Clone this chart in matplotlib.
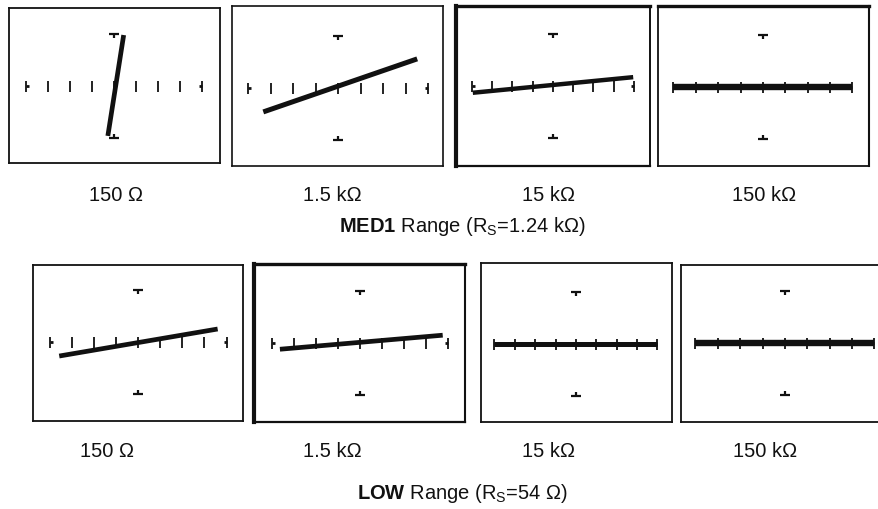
import numpy as np
import matplotlib
matplotlib.use("Agg")
import matplotlib.pyplot as plt

plt.rcParams['font.family'] = ['Liberation Sans', 'DejaVu Sans']
plt.rcParams['mathtext.fontset'] = 'custom'
plt.rcParams['mathtext.rm'] = 'Liberation Sans'
plt.rcParams['mathtext.bf'] = 'Liberation Sans:bold'

# test resistor labels and range titles
resistors = ["150 Ω", "1.5 kΩ", "15 kΩ", "150 kΩ"]
range_names = ["MED1", "LOW"]
range_rs = ["1.24 kΩ", "54 Ω"]

# trace end points (voltage, current), normalised to the reticle, one row per range
med1_v = [[-0.07, 0.11], [-0.83, 0.88], [-0.99, 0.99], [-1.0, 1.0]]
med1_i = [[-0.96, 0.98], [-0.46, 0.56], [-0.13, 0.17], [0.0, 0.0]]
low_v = [[-0.89, 0.90], [-0.91, 0.94], [-1.0, 1.0], [-1.0, 1.0]]
low_i = [[-0.27, 0.25], [-0.12, 0.15], [0.0, 0.0], [0.0, 0.0]]

W, H = 879, 510
fig = plt.figure(figsize=(W / 100, H / 100), dpi=100)

# layout in pixels: box (left, right, top, bottom), reticle centre and half width
boxes = [
    [(9, 220, 9, 164), (232, 443, 7, 167), (456, 650, 7, 167), (658, 869, 7, 167)],
    [(33, 243, 266, 422), (254, 465, 265, 423), (481, 672, 264, 423), (681, 892, 266, 423)],
]
centres = [
    [(114, 87), (338, 89), (553, 87), (763, 88)],
    [(138, 343), (360, 344), (576, 345), (785, 344)],
]
half_w = [[88, 90, 81, 89.5], [88.5, 88, 81.5, 89.5]]
half_h = 52
# spine widths (left, top, right, bottom) in points
spine_w = [
    [(1.3, 1.3, 1.3, 1.3), (1.2, 1.2, 1.2, 1.2), (3.0, 2.4, 1.4, 1.6), (1.3, 2.4, 1.5, 1.3)],
    [(1.3, 1.3, 1.3, 1.3), (3.0, 2.4, 1.5, 1.6), (1.3, 1.3, 1.3, 1.3), (1.3, 1.3, 1.3, 1.3)],
]
trace_lw = [[3.4, 3.6, 3.2, 4.6], [3.4, 3.4, 3.6, 4.6]]

label_x = [[116, 332, 548, 764], [107, 332, 548, 765]]
label_y = [196, 452]
title_y = [227, 494]

volts = [med1_v, low_v]
currs = [med1_i, low_i]

ink = "#111111"
for r in range(2):
    for c in range(4):
        l, rr, t, b = boxes[r][c]
        cx, cy = centres[r][c]
        hw = half_w[r][c]
        ax = fig.add_axes([l / W, 1 - b / H, (rr - l) / W, (b - t) / H])
        ax.set_xlim((l - cx) / hw, (rr - cx) / hw)
        ax.set_ylim((cy - b) / half_h, (cy - t) / half_h)
        ax.set_xticks([])
        ax.set_yticks([])
        for side, lw in zip(["left", "top", "right", "bottom"], spine_w[r][c]):
            ax.spines[side].set_linewidth(lw)
            ax.spines[side].set_color(ink)

        # reticle: nine ticks on the voltage axis, markers on the current axis
        th = 5.5 / half_h
        xs = np.linspace(-1, 1, 9)
        ax.vlines(xs, -th, th, color=ink, lw=1.3)
        ax.hlines(0, -1, -1 + 3 / hw, color=ink, lw=2.0)
        ax.hlines(0, 1 - 3 / hw, 1, color=ink, lw=2.0)
        ax.hlines([1, -1], -5 / hw, 5 / hw, color=ink, lw=1.6)
        ax.vlines(0, 1 - 4 / half_h, 1, color=ink, lw=1.6)
        ax.vlines(0, -1, -1 + 4 / half_h, color=ink, lw=1.6)

        ax.plot(volts[r][c], currs[r][c], color=ink, lw=trace_lw[r][c],
                solid_capstyle="butt")

        fig.text(label_x[r][c] / W, 1 - label_y[r] / H, resistors[c],
                 ha="center", va="center", fontsize=14.5, color=ink)

    fig.text(462 / W, 1 - title_y[r] / H,
             r"$\mathbf{" + range_names[r] + "}$ Range (R$_\\mathrm{S}$=" + range_rs[r] + ")",
             ha="center", va="center", fontsize=14.5, color=ink)

fig.savefig("out.png", dpi=100)
